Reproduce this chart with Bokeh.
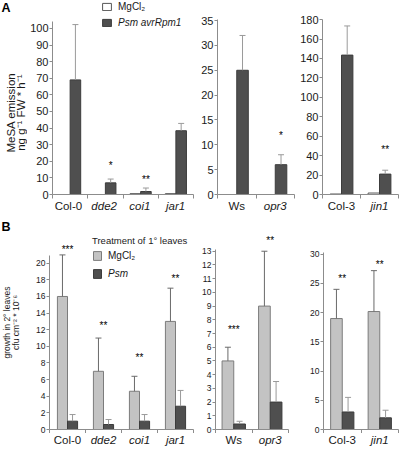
import numpy as np
from bokeh.plotting import figure
from bokeh.models import (ColumnDataSource, FixedTicker, Legend, LegendItem,
                          Whisker, TeeHead, Range1d)
from bokeh.layouts import row, column
from bokeh.embed import file_html
from bokeh.resources import INLINE
from bokeh.core.properties import value, field

FONT = "Liberation Sans"

# ---------------- Panel A : MeSA emission ----------------
a1_categories = ["Col-0", "dde2", "coi1", "jar1"]
a1_mgcl2 = [0.0, 0.0, 0.5, 0.5]
a1_psm = [69.0, 7.0, 1.8, 38.4]
a1_psm_upper = [102.3, 9.3, 3.9, 42.8]
a1_star_cat = ["dde2", "coi1"]
a1_star_text = ["*", "**"]
a1_star_y = [17.4, 9.1]

a2_categories = ["Ws", "opr3"]
a2_mgcl2 = [0.0, 0.0]
a2_psm = [25.0, 6.0]
a2_psm_upper = [32.0, 8.0]
a2_star_cat = ["opr3"]
a2_star_text = ["*"]
a2_star_y = [11.8]

a3_categories = ["Col-3", "jin1"]
a3_mgcl2 = [0.5, 1.5]
a3_psm = [143.5, 21.0]
a3_psm_upper = [173.5, 25.0]
a3_star_cat = ["jin1"]
a3_star_text = ["**"]
a3_star_y = [46.0]

a1_yticks = list(range(0, 101, 10))
a2_yticks = list(range(0, 36, 5))
a3_yticks = list(range(0, 181, 20))
a_ylabel = ["MeSA emission", "ng g\u207b\u00b9 FW * h\u207b\u00b9"]

# ---------------- Panel B : bacterial growth ----------------
b1_categories = ["Col-0", "dde2", "coi1", "jar1"]
b1_mgcl2 = [16.0, 7.0, 4.6, 13.0]
b1_mgcl2_upper = [21.0, 11.0, 6.4, 17.0]
b1_psm = [1.0, 0.6, 1.0, 2.8]
b1_psm_upper = [1.8, 1.2, 1.8, 4.7]
b1_star_cat = ["Col-0", "dde2", "coi1", "jar1"]
b1_star_text = ["***", "**", "**", "**"]
b1_star_y = [21.7, 12.5, 8.7, 18.2]

b2_categories = ["Ws", "opr3"]
b2_mgcl2 = [5.0, 9.0]
b2_mgcl2_upper = [6.0, 13.0]
b2_psm = [0.4, 2.0]
b2_psm_upper = [0.6, 3.5]
b2_star_cat = ["Ws", "opr3"]
b2_star_text = ["***", "**"]
b2_star_y = [7.3, 13.75]

b3_categories = ["Col-3", "jin1"]
b3_mgcl2 = [19.0, 20.2]
b3_mgcl2_upper = [24.0, 27.2]
b3_psm = [3.0, 2.0]
b3_psm_upper = [5.5, 3.3]
b3_star_cat = ["Col-3", "jin1"]
b3_star_text = ["**", "**"]
b3_star_y = [25.9, 28.2]

b1_yticks = list(range(0, 21, 2))
b2_yticks = list(range(0, 14, 1))
b3_yticks = list(range(0, 31, 5))
b_ylabel = ["growth in 2\u00b0 leaves", "cfu cm\u207b\u00b2 * 10\u207b\u2076"]

italic_names = {"dde2", "coi1", "jar1", "opr3", "jin1"}

# ---------------- styles ----------------
AXIS = "#8c8c8c"
TXT = "#1a1a1a"
DARK, DARK_LINE = "#4f4f4f", "#3c3c3c"
LIGHT, LIGHT_LINE = "#c3c3c3", "#7c7c7c"
WHITE, WHITE_LINE = "#ffffff", "#555555"


def bare(width, height, l=0, r=0, x_range=None, y_range=None):
    f = figure(width=width, height=height,
               x_range=x_range if x_range is not None else Range1d(0, width),
               y_range=y_range if y_range is not None else Range1d(0, height),
               x_axis_location=None, y_axis_location=None, output_backend="svg",
               toolbar_location=None, min_border_left=l, min_border_right=r,
               min_border_top=0, min_border_bottom=0)
    f.xgrid.visible = False
    f.ygrid.visible = False
    f.outline_line_color = None
    return f


def make_panel(ncat, width, height, borders, y_end, yticks, ybounds, tick_size):
    l, r, t, b = borders
    p = figure(width=width, height=height, x_range=Range1d(0, ncat),
               y_range=Range1d(0, y_end), output_backend="svg",
               toolbar_location=None, min_border_left=l, min_border_right=r,
               min_border_top=t, min_border_bottom=b)
    p.xgrid.visible = False
    p.ygrid.visible = False
    p.outline_line_color = None
    xa = p.xaxis[0]
    xa.ticker = FixedTicker(ticks=[], minor_ticks=list(range(ncat + 1)))
    xa.major_tick_out = 0
    xa.major_tick_in = 0
    xa.minor_tick_out = 4
    xa.minor_tick_in = 0
    xa.axis_line_color = AXIS
    xa.minor_tick_line_color = AXIS
    xa.major_label_text_font_size = "1px"
    xa.major_label_standoff = 0
    ya = p.yaxis[0]
    ya.ticker = FixedTicker(ticks=yticks, minor_ticks=[])
    ya.bounds = ybounds
    ya.axis_line_color = AXIS
    ya.major_tick_line_color = AXIS
    ya.major_tick_out = 3
    ya.major_tick_in = 0
    ya.major_label_standoff = 1
    ya.major_label_text_font = FONT
    ya.major_label_text_font_size = tick_size
    ya.major_label_text_color = TXT
    return p


def make_strip(p, cats, width, height, l, r, font_size):
    s = bare(width, height, l, r, x_range=p.x_range, y_range=Range1d(0, 1))
    src = ColumnDataSource(dict(
        x=list(np.arange(len(cats)) + 0.5),
        y=[1.0] * len(cats),
        t=cats,
        style=["italic" if c in italic_names else "normal" for c in cats]))
    s.text(x="x", y="y", text="t", source=src, text_font=value(FONT),
           text_font_size=value(font_size), text_font_style=field("style"),
           text_align="center", text_baseline="top", text_color=TXT)
    return s


def make_side(width, height, letter, letter_x, letter_top, lines, line_x, label_cy, font_size):
    s = bare(width, height)
    s.text(x=[letter_x], y=[height - letter_top], text=[letter], text_font=value(FONT),
           text_font_size=value("12.5px"), text_font_style="bold",
           text_align="left", text_baseline="top", text_color="#000000")
    s.text(x=line_x, y=[label_cy] * len(lines), text=lines, angle=np.pi / 2,
           text_font=value(FONT), text_font_size=value(font_size),
           text_align="center", text_baseline="middle", text_color=TXT)
    return s


def add_bars(p, cats, vals, upper, bw, side, fill, line, err_color):
    centers = np.arange(len(cats)) + 0.5
    xs = centers + side * bw / 2.0
    src = ColumnDataSource(dict(x=xs, top=vals))
    r = p.vbar(x="x", top="top", bottom=0, width=bw, source=src,
               fill_color=fill, line_color=line, line_width=1)
    if upper is not None:
        wsrc = ColumnDataSource(dict(x=xs, lower=vals, upper=upper))
        w = Whisker(source=wsrc, base="x", lower="lower", upper="upper",
                    lower_head=None,
                    upper_head=TeeHead(size=6, line_color=err_color, line_width=1),
                    line_color=err_color, line_width=1, level="glyph")
        p.add_layout(w)
    return r


def add_stars(p, cats, star_cat, star_text, star_y, dx):
    xs = [cats.index(c) + 0.5 + dx for c in star_cat]
    src = ColumnDataSource(dict(x=xs, y=star_y, t=star_text))
    p.text(x="x", y="y", text="t", source=src, text_font=value(FONT),
           text_font_size=value("10px"), text_align="center",
           text_baseline="middle", text_color="#000000")


def leg(p, item_label, renderer, loc, style, gw, gh, lh, lw, title=None):
    lg = Legend(items=[LegendItem(label=item_label, renderers=[renderer])],
                location=loc, orientation="vertical", padding=0, margin=0,
                spacing=0, border_line_color=None, background_fill_alpha=0,
                glyph_width=gw, glyph_height=gh, label_height=lh, label_width=lw,
                label_standoff=6, label_text_font=FONT,
                label_text_font_size="10px", label_text_font_style=style,
                label_text_color=TXT)
    if title is not None:
        lg.title = title
        lg.title_text_font = FONT
        lg.title_text_font_size = "9.5px"
        lg.title_text_font_style = "normal"
        lg.title_text_color = TXT
        lg.title_standoff = 4
    p.add_layout(lg, "center")


# ---------------- row A ----------------
HA = 199
BW_A = 0.3
a_side = make_side(27, HA, "A", 1, 0, a_ylabel, [10.5, 20.2], 84, "11.5px")
a1 = make_panel(4, 168, HA, (23, 2, 0, 5), 116.8, a1_yticks, (0, 104.2), "11px")
a2 = make_panel(2, 101, HA, (22, 2, 0, 5), 39.04, a2_yticks, (0, 35.2), "11px")
a3 = make_panel(2, 103, HA, (26, 1, 0, 5), 199.7, a3_yticks, (0, 180.5), "11px")

ERR_A = "#9a9a9a"
r_mg_a = add_bars(a1, a1_categories, a1_mgcl2, None, BW_A, -1, WHITE, WHITE_LINE, ERR_A)
r_psm_a = add_bars(a1, a1_categories, a1_psm, a1_psm_upper, BW_A, 1, DARK, DARK_LINE, ERR_A)
add_bars(a2, a2_categories, a2_mgcl2, None, BW_A, -1, WHITE, WHITE_LINE, ERR_A)
add_bars(a2, a2_categories, a2_psm, a2_psm_upper, BW_A, 1, DARK, DARK_LINE, ERR_A)
add_bars(a3, a3_categories, a3_mgcl2, None, BW_A, -1, WHITE, WHITE_LINE, ERR_A)
add_bars(a3, a3_categories, a3_psm, a3_psm_upper, BW_A, 1, DARK, DARK_LINE, ERR_A)
add_stars(a1, a1_categories, a1_star_cat, a1_star_text, a1_star_y, BW_A / 2)
add_stars(a2, a2_categories, a2_star_cat, a2_star_text, a2_star_y, BW_A / 2)
add_stars(a3, a3_categories, a3_star_cat, a3_star_text, a3_star_y, BW_A / 2)

leg(a1, "MgCl\u2082", r_mg_a, (49, 181.5), "normal", 11, 9, 12, 60)
leg(a1, "Psm avrRpm1", r_psm_a, (49, 166), "italic", 11, 9, 12, 70)

HA_S = 18
a1s = make_strip(a1, a1_categories, 195, HA_S, 50, 2, "11.5px")
a2s = make_strip(a2, a2_categories, 101, HA_S, 22, 2, "11.5px")
a3s = make_strip(a3, a3_categories, 103, HA_S, 26, 1, "11.5px")

# ---------------- row B ----------------
HB = 216
b_side = make_side(33, HB, "B", 1, 3, b_ylabel, [6, 15.5], 109, "8.5px")
b1 = make_panel(4, 164, HB, (16, 4, 0, 4), 25.5, b1_yticks, (0, 20.9), "8.5px")
b2 = make_panel(2, 109, HB, (18, 18, 0, 4), 15.46, b2_yticks, (0, 13.1), "8.5px")
b3 = make_panel(2, 93, HB, (17, 1, 0, 4), 36.3, b3_yticks, (0, 30.3), "8.5px")

ERR_BM = "#6a6a6a"
ERR_BP = "#9a9a9a"
r_mg_b = add_bars(b1, b1_categories, b1_mgcl2, b1_mgcl2_upper, 0.28, -1, LIGHT, LIGHT_LINE, ERR_BM)
r_psm_b = add_bars(b1, b1_categories, b1_psm, b1_psm_upper, 0.28, 1, DARK, DARK_LINE, ERR_BP)
add_bars(b2, b2_categories, b2_mgcl2, b2_mgcl2_upper, 0.32, -1, LIGHT, LIGHT_LINE, ERR_BM)
add_bars(b2, b2_categories, b2_psm, b2_psm_upper, 0.32, 1, DARK, DARK_LINE, ERR_BP)
add_bars(b3, b3_categories, b3_mgcl2, b3_mgcl2_upper, 0.31, -1, LIGHT, LIGHT_LINE, ERR_BM)
add_bars(b3, b3_categories, b3_psm, b3_psm_upper, 0.31, 1, DARK, DARK_LINE, ERR_BP)
add_stars(b1, b1_categories, b1_star_cat, b1_star_text, b1_star_y, 0)
add_stars(b2, b2_categories, b2_star_cat, b2_star_text, b2_star_y, 0)
add_stars(b3, b3_categories, b3_star_cat, b3_star_text, b3_star_y, 0)

leg(b1, "MgCl\u2082", r_mg_b, (43, 168.5), "normal", 10, 11, 11, 60, title="Treatment of 1\u00b0 leaves")
leg(b1, "Psm", r_psm_b, (43, 150), "italic", 10, 11, 11, 40)

HB_S = 13
b1s = make_strip(b1, b1_categories, 197, HB_S, 49, 4, "11.5px")
b2s = make_strip(b2, b2_categories, 109, HB_S, 18, 18, "11.5px")
b3s = make_strip(b3, b3_categories, 93, HB_S, 17, 1, "11.5px")

layout = column(row(a_side, a1, a2, a3), row(a1s, a2s, a3s),
                row(b_side, b1, b2, b3), row(b1s, b2s, b3s))
open("out.html", "w").write(file_html(layout, INLINE))
